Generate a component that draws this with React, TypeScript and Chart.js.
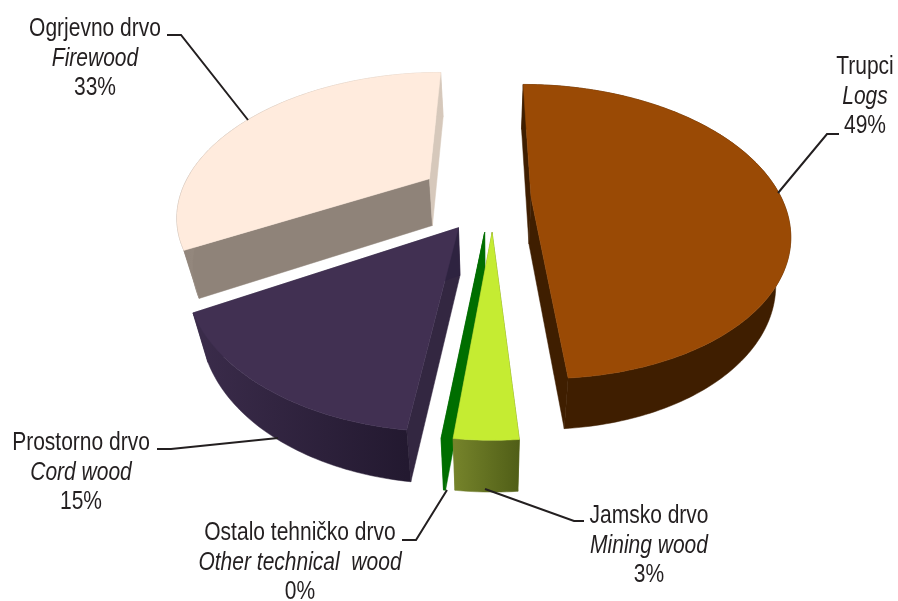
import React, { useEffect, useRef } from "react";
import { Chart, registerables } from "chart.js";

Chart.register(...registerables);

// ---- data ----
const categories = ["Trupci", "Jamsko drvo", "Ostalo tehničko drvo", "Prostorno drvo", "Ogrjevno drvo"];
const englishNames = ["Logs", "Mining wood", "Other technical  wood", "Cord wood", "Firewood"];
const shares = [48.8, 3.0, 0.1, 15.0, 33.1];

// ---- styles ----
const topColors = ["#9A4A05", "#C5EC32", "#006E00", "#413052", "#FFEBDD"];
const startFaceColors = ["#3F1E00", "#5C6A1C", "#006E00", "#332741", "#8F8379"];
const endFaceColors = ["#3F1E00", "#6F7C28", "#006E00", "#2E2340", "#D6C8BB"];
const wallFrom = ["#3F1E00", "#76842B", "#006E00", "#3B2C4B", "#8F8379"];
const wallTo = ["#3F1E00", "#505E17", "#006E00", "#231930", "#D6C8BB"];
const paintOrder = [4, 0, 3, 2, 1];

// ---- projection of the tilted pie ----
const CX = 490, CY = 197, AX = 250, BY = 139, PERSP = 0.235;
const DEPTH = 47, BOTTOM_SX = 0.95, BOTTOM_SY = 1.02;
const explodeU = [0.164, 0.008, -0.02, -0.12, -0.25];
const explodeV = [0, -0.24, -0.24, -0.21, 0.135];

const project = (u: number, v: number, bottom: boolean) => {
  const w = 1 + PERSP * v;
  const x = (AX * u) / w;
  const y = (-BY * v) / w;
  return bottom
    ? { x: CX + x * BOTTOM_SX, y: CY + DEPTH + y * BOTTOM_SY }
    : { x: CX + x, y: CY + y };
};

// ---- labels ----
const TEXT = "#231F20";
const TEXT_SQUEEZE = 0.84;
const labelCenters = [
  { x: 865, y: 67 },
  { x: 649, y: 516 },
  { x: 300, y: 533 },
  { x: 81, y: 443 },
  { x: 95, y: 29 },
];
const leaders = [
  [[778, 193], [827, 134], [839, 134]],
  [[485, 489], [574, 521], [584, 521]],
  [[447, 490], [416, 540], [402, 540]],
  [[278, 438], [171, 449], [157, 449]],
  [[248, 120], [181, 35], [167, 35]],
];

const pie3d = {
  id: "pie3d",
  beforeDatasetDraw: () => false,
  afterDatasetsDraw(chart: any) {
    const ctx: CanvasRenderingContext2D = chart.ctx;
    const arcs = chart.getDatasetMeta(0).data;
    const fill = (pts: { x: number; y: number }[], style: any) => {
      ctx.beginPath();
      pts.forEach((p, i) => (i ? ctx.lineTo(p.x, p.y) : ctx.moveTo(p.x, p.y)));
      ctx.closePath();
      ctx.fillStyle = style;
      ctx.strokeStyle = style;
      ctx.lineWidth = 0.5;
      ctx.fill();
      ctx.stroke();
    };
    ctx.save();
    for (const i of paintOrder) {
      const a0 = arcs[i].startAngle + Math.PI / 2;
      const a1 = arcs[i].endAngle + Math.PI / 2;
      const u0 = explodeU[i], v0 = explodeV[i];
      const rim = (b: boolean) => {
        const out = [];
        const n = Math.max(2, Math.ceil(((a1 - a0) * 180) / Math.PI));
        for (let k = 0; k <= n; k++) {
          const t = a0 + ((a1 - a0) * k) / n;
          out.push(project(u0 + Math.sin(t), v0 + Math.cos(t), b));
        }
        return out;
      };
      const topRim = rim(false), botRim = rim(true);
      const apexT = project(u0, v0, false), apexB = project(u0, v0, true);
      fill([apexT, topRim[0], botRim[0], apexB], startFaceColors[i]);
      fill([apexT, topRim[topRim.length - 1], botRim[botRim.length - 1], apexB], endFaceColors[i]);
      const xs = topRim.map((p) => p.x);
      const g = ctx.createLinearGradient(Math.min(...xs), 0, Math.max(...xs), 0);
      g.addColorStop(0, wallFrom[i]);
      g.addColorStop(1, wallTo[i]);
      fill([...topRim, ...[...botRim].reverse()], g);
      fill([apexT, ...topRim], topColors[i]);
    }
    // leader lines
    ctx.strokeStyle = TEXT;
    ctx.lineWidth = 2;
    ctx.lineJoin = "miter";
    leaders.forEach((pts) => {
      ctx.beginPath();
      pts.forEach((p, k) => (k ? ctx.lineTo(p[0], p[1]) : ctx.moveTo(p[0], p[1])));
      ctx.stroke();
    });
    // labels
    ctx.fillStyle = TEXT;
    ctx.textAlign = "center";
    ctx.textBaseline = "middle";
    const put = (text: string, x: number, y: number, font: string) => {
      ctx.save();
      ctx.translate(x, y);
      ctx.scale(TEXT_SQUEEZE, 1);
      ctx.font = font;
      ctx.fillText(text, 0, 0);
      ctx.restore();
    };
    categories.forEach((name, i) => {
      const c = labelCenters[i];
      put(name, c.x, c.y, '25px "Liberation Sans"');
      put(englishNames[i], c.x, c.y + 30, 'italic 25px "Liberation Sans"');
      put(`${Math.round(shares[i])}%`, c.x, c.y + 59, '25px "Liberation Sans"');
    });
    ctx.restore();
  },
};

export default function App() {
  const ref = useRef<HTMLCanvasElement | null>(null);
  useEffect(() => {
    const chart = new Chart(ref.current!, {
      type: "pie",
      data: {
        labels: categories,
        datasets: [{ data: shares, backgroundColor: topColors, borderWidth: 0 }],
      },
      options: {
        animation: false,
        responsive: false,
        rotation: 0,
        plugins: { legend: { display: false }, tooltip: { enabled: false } },
      },
      plugins: [pie3d],
    });
    return () => chart.destroy();
  }, []);
  return (
    <canvas
      ref={ref}
      width={898}
      height={601}
      style={{ position: "absolute", left: 0, top: 0, width: 898, height: 601, display: "block" }}
    />
  );
}
